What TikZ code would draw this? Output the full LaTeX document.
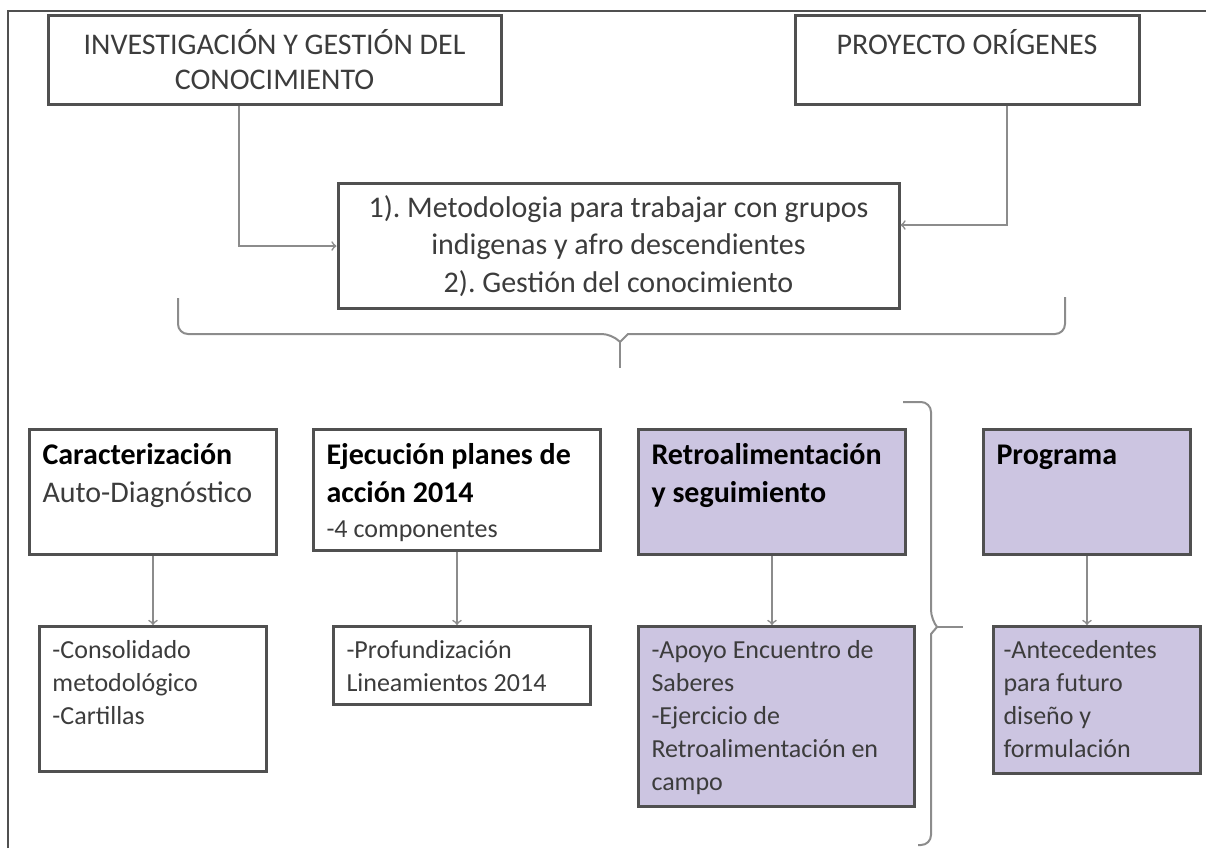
\documentclass[tikz,border=0pt]{standalone}
\usepackage{fontspec}
\setmainfont{Carlito}
\frenchspacing
\definecolor{marco}{RGB}{80,80,80}
\definecolor{lila}{RGB}{204,197,225}
\definecolor{gris}{RGB}{140,140,140}
\definecolor{texto}{RGB}{60,60,60}
\newcommand{\cajatexto}[3]{\parbox[t][#2][t]{#1}{\raggedright #3}}
\newcommand{\titulo}[1]{{\fontsize{15}{19}\selectfont\bfseries\color{black}\rule{0pt}{11pt}#1\par}}
\newcommand{\detalle}[1]{{\fontsize{13}{16.5}\selectfont\rule{0pt}{9.5pt}#1\par}}

\begin{document}
\begin{tikzpicture}[x=0.5pt,y=-0.5pt,
  caja/.style={draw=marco, line width=1.5pt, text=texto},
  arriba/.style={caja, align=center, font=\fontsize{15}{17.5}\selectfont},
  fase/.style={caja, anchor=north west, inner sep=6.5pt},
  flecha/.style={->, draw=gris, line width=0.8pt},
  llave/.style={draw=gris, line width=1pt}]
\useasboundingbox (0,0) rectangle (1206,848);
\draw[marco, line width=1.2pt] (8,848) -- (8,11) -- (1206,11);

% cajas de arriba
\node[arriba, minimum width=226.5pt, minimum height=44.5pt] (inv) at (274.5,59.5) {INVESTIGACIÓN Y GESTIÓN DEL\\CONOCIMIENTO};
\node[arriba, minimum width=172pt, minimum height=44.5pt] (ori) at (967,59.5) {PROYECTO ORÍGENES\\~};
\node[arriba, minimum width=280.5pt, minimum height=62.5pt, font=\fontsize{15}{18.75}\selectfont] (met) at (618.5,246)
  {1). Metodologia para trabajar con grupos\\indigenas y afro descendientes\\2). Gestión del conocimiento};
\draw[flecha] ([xshift=-17.75pt]inv.south) |- (met.west);
\draw[flecha] ([xshift=20pt]ori.south) |- ([yshift=10.5pt]met.east);

% llave de abajo
\draw[llave] (178,298) [rounded corners=5pt] |- (612,334) [sharp corners] -- (620,342) -- (628,334) [rounded corners=5pt] -| (1065,297);
\draw[llave] (620,342) -- (620,368);

% fases
\node[fase] (car) at (28,428) {\cajatexto{110.5pt}{49.5pt}{\titulo{Caracterización}{\fontsize{15}{19}\selectfont Auto-Diagnóstico\par}}};
\node[fase] (eje) at (312,428) {\cajatexto{130.5pt}{47.5pt}{\titulo{Ejecución planes de\\acción 2014}{\fontsize{13}{17.5}\selectfont -4 componentes\par}}};
\node[fase, fill=lila] (ret) at (637,428) {\cajatexto{120.5pt}{49.5pt}{\titulo{Retroalimentación\\y seguimiento}}};
\node[fase, fill=lila] (pro) at (982,428) {\cajatexto{90.5pt}{49.5pt}{\titulo{Programa}}};

\node[fase] (con) at (38,625) {\cajatexto{100.5pt}{59.5pt}{\detalle{-Consolidado\\metodológico\\-Cartillas}}};
\node[fase] (prf) at (332,625) {\cajatexto{115.5pt}{26pt}{\detalle{-Profundización\\Lineamientos 2014}}};
\node[fase, fill=lila] (apo) at (637,625) {\cajatexto{125pt}{77pt}{\detalle{-Apoyo Encuentro de\\Saberes\\-Ejercicio de\\Retroalimentación en\\campo}}};
\node[fase, fill=lila, inner xsep=5pt] (ant) at (992,625) {\cajatexto{93.5pt}{60.5pt}{\detalle{-Antecedentes\\para futuro\\diseño y\\formulación}}};

\draw[flecha] (car.south) -- (car.south |- con.north);
\draw[flecha] (eje.south) -- (eje.south |- prf.north);
\draw[flecha] (ret.south) -- (ret.south |- apo.north);
\draw[flecha] (pro.south) -- (pro.south |- ant.north);

% llave de la derecha
\draw[llave] (903,402) [rounded corners=5pt] -| (931,620) [sharp corners] -- (937,627) -- (931,634) [rounded corners=5pt] |- (918,845);
\draw[llave] (937,627) -- (963,627);
\end{tikzpicture}
\end{document}
